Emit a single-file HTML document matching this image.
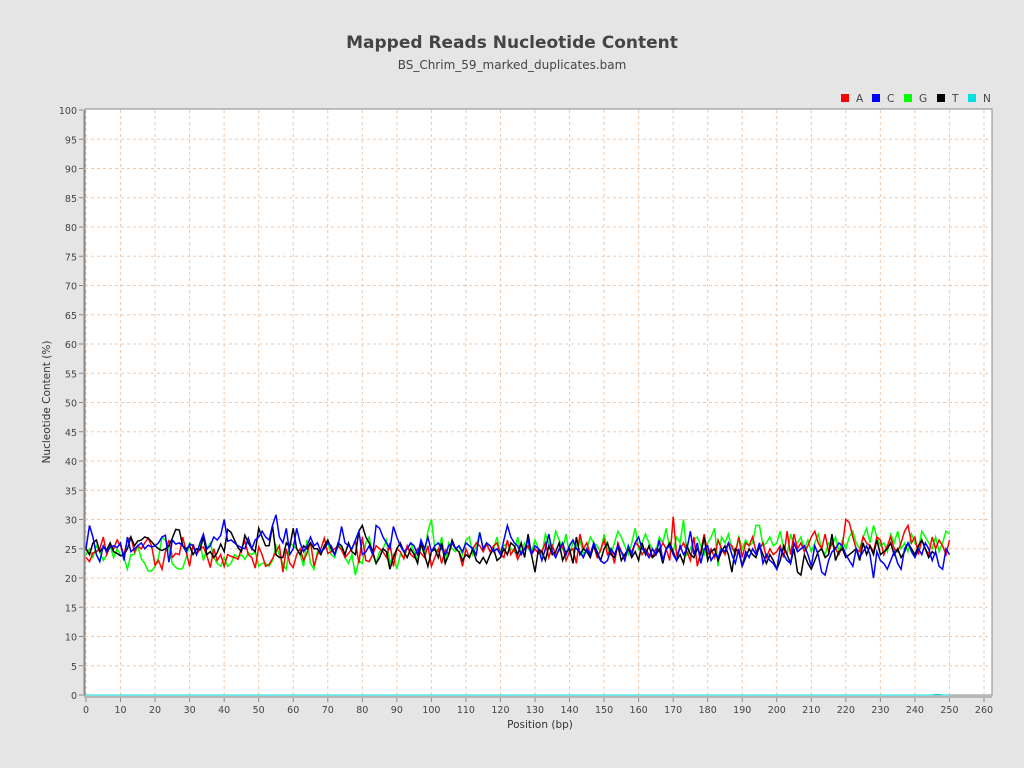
<!DOCTYPE html>
<html><head><meta charset="utf-8"><style>
body{margin:0;background:#e5e5e5;font-family:"Liberation Sans","DejaVu Sans",sans-serif;}
svg{display:block}
</style></head><body>
<svg width="1024" height="768" font-family="DejaVu Sans, Liberation Sans, sans-serif">
<rect width="1024" height="768" fill="#e5e5e5"/>
<text x="512" y="48" text-anchor="middle" font-size="17" font-weight="bold" fill="#444">Mapped Reads Nucleotide Content</text>
<text x="512" y="69" text-anchor="middle" font-size="12" fill="#444">BS_Chrim_59_marked_duplicates.bam</text>
<g id="legend"></g>
<rect x="85" y="109" width="907" height="586" fill="#fff" stroke="#888"/>
<g id="grid"></g>
<g id="axes"></g>
<g id="series"></g>
<text transform="translate(50,402) rotate(-90)" text-anchor="middle" font-size="10.5" fill="#333">Nucleotide Content (%)</text>
<text x="540" y="728" text-anchor="middle" font-size="10.5" fill="#333">Position (bp)</text>
</svg>
<script>
const xTicks=[0,10,20,30,40,50,60,70,80,90,100,110,120,130,140,150,160,170,180,190,200,210,220,230,240,250,260];
const yTicks=[0,5,10,15,20,25,30,35,40,45,50,55,60,65,70,75,80,85,90,95,100];
const seriesNames=["A","C","G","T","N"];
const seriesColors=["#ff0000","#0000ff","#00ff00","#000000","#00e0e0"];
const seriesA=[23.5,22.8,24.3,24.5,25,27,24,25.5,25,26.5,25.5,24,26.5,27,24.5,25.5,25,26,26.8,25.5,22.2,23,21.5,24.5,26.5,23.5,24.2,24,27,24.5,22,25.8,24,25,25.3,23.8,21.8,25,23,24,22,24,23.7,23.5,23.2,25,26.3,24,23.5,21.7,25.3,24,22,22.3,23.3,24.5,25.5,21,25,22.5,21.8,24,25,23,24.2,26.2,22,24,25,26.8,24.2,24.5,25,25.5,24.8,23.5,24.2,25,26.3,22.5,27,23,22.8,24,25.5,25,24.5,23.5,26,22,25,24.5,23.3,25.5,24,23.5,25,24.2,23.5,25.5,22,23.5,25,22.5,24.8,24,26,25,24.5,22,25,23.5,25,26,25.5,24.5,25.8,24.5,25.5,26,24,23.5,26.5,24,25,23.2,24.5,25,25.5,24,25,24.2,24.5,26,23.5,25.5,24,24.7,25.5,23,24.5,25,22.5,27.5,25,26,24,25.5,23.5,24.8,26.5,24,25,22.5,26,24.5,23.7,25,24.5,26,25.5,24,25,24,23.5,25,24.5,26,25,23,30.5,24,25,26,24.5,23,27,22,24.5,27.5,24,25,23.5,26.5,25,24,26,25.5,24,27,23.5,26,25.5,27,24.5,25,26,23.5,25,24,24.5,25.5,23.5,28,24,27.5,25,26,24.5,25.5,27,28,26,25,27.5,24.5,26,25,24,25.5,30,29.5,27,25,24.5,27,26,25.5,24.5,27,26.5,24,25.5,27,25,24.5,26,28,29,26,27,24,26.5,25,24,27,25,26.5,25.5,24,26.5,25,24];
const seriesC=[25,29,27,24,22.8,25.5,24.5,25.3,25.5,25.2,26,23,27,24.5,25,25.5,26,25,25.6,25.3,25.5,26,27,27.3,22.7,26.5,25.8,26,25.5,24.5,25.8,25.5,24,26,27.5,25,25.5,27,26.5,27.3,30,26.3,26.5,26,25.5,25.2,25,26.8,25,26.5,27,28,27,26.5,29,30.8,27,26,28.5,24,25,28.5,26,24.5,25.5,27,25.5,26,24.5,25,26,25.5,24,25.5,28.8,26,25.5,25,26.5,28,24,24.5,25.5,24,29,28.5,27,26,25,28.8,27,25.5,24.5,25,26,25.5,24,26.5,25,27,24.5,25.5,26,25,24,25.5,26,25,25.5,24.5,26,25.5,25,24,27.8,25,26,25.5,24.5,25,24,26.5,29,27,26,25.5,24,25,26.5,24,25.5,25,23,25,27.5,24.5,23.5,25,26,24,25.5,26.5,25,24.5,23.5,25,24,26,24.5,23,22.5,23,25,24,25.5,24.5,23,25.5,24,26,27,25,24.5,23.5,25,24,26.5,23,25,25.5,24,23,25.5,24,25,28,24,26,22.5,25,25.5,23,24,23.5,25,24.5,26,24,22.5,25,22,24.5,23.5,25,24,26,22.5,24,23,22.5,21.5,25,24,23,22.5,26,24.5,25,25.5,24,22,25.5,24,21,20.5,23,24.5,25,26,25.5,24,23,22,25,23.5,24.5,25.5,24,20,24.5,23,22.5,21.5,23,24.5,22.5,21.5,25,26,24.5,23.5,25,24,26,25,23,24.5,22,21.5,25,24,22.5,21.5];
const seriesG=[24,25,23.5,25.5,24.5,23,24,25.5,23.5,25,24,23.5,21.5,24,24,25.5,23.3,22.5,21.2,21.2,22,23.5,27,26.5,25,22.5,21.8,21.5,21.7,23.5,26,25.5,24,26,23,25,26,23.5,22.5,22,23.5,22,22.5,24,23.5,24,23.2,24.3,24,24.5,22,22.5,22.5,22,23,25.5,24,22.3,21.5,26,25.5,25,24,22,26.5,22.5,21.5,24.5,24,25.5,26,24,23.5,26,25,23.5,22.5,24,20.5,23,22.5,26,27,24,22.5,24.5,25,26.5,22.5,24,21.5,24,23.5,25,26,24.5,23,25.5,24,28,30,25,24.5,27,22.5,26,25,24.5,25.5,24,26.5,27,24,25.5,27.8,25,26,24.5,25,27,24,25.5,26,25,24.5,27,24,26,25,24.5,26.5,25,24,27.5,26,25,28,26.5,25,27.5,24,26,25.5,26.5,24,25,27,26,25.5,24.5,27.5,25,24,26,28,27,25.5,24,26,28.5,25,26,27.5,26,25,24.5,27,26,28.5,25,24.5,27,26,30,24,25,26.5,27,25.5,24,26,27,28.5,22,27,26,27.5,25,24.5,27,25,26.5,25.5,26,29,29,25.5,26,27,25.5,26,28,25,24,27.5,25.5,26,27,25,26.5,24.5,26,27.5,25,24,26,25.5,27,24.5,26.5,25,27,28,26,25,27,28.5,26,29,27,25.5,26,24.5,27.5,26,28,25,26,24.5,27.5,26,25,28,27,26,25,27,24.5,26,28,27.5,26,25];
const seriesT=[25,24,26,26.5,24.5,25.3,24.8,26,24.5,24.2,23.8,24,25,27,25.5,26.3,26.5,27,26.8,26.2,25.5,25,24.7,25,25.5,26.8,28.3,28.2,25.5,25,25.5,24,25,24.8,27,24,24.5,23.5,24.3,25.8,24.5,28.3,27.8,26.5,25.2,24.5,27.3,26,25,24.5,28.5,27,25.5,25.5,29,24,23.5,23.5,26,25.3,28.5,25,24,25.5,25,26,25,25,24,25.5,26.5,25,24,26,25.5,24,26,24.5,24,28,29,27,26,24.5,22.5,23.5,25,24.5,21.5,23.5,25,26,24.5,23.5,25,24,22.5,26,24,22,24.5,25,23.5,26,22.5,24,26.5,25,24.5,23,24,23.5,25,23,22.5,23.5,22.5,24,25,23,23.5,25,24,26,25.5,24,26,23.5,27.5,24,21,25,24.5,23,25.5,24,24.5,26,23,24.5,25,22.5,27,24,25,24.5,23.5,25.5,24,23,25,26,24,23.5,25.5,23,24,25,23.5,24.5,23,26,24,25.5,23.5,24,25,22.5,25,26,24.5,23,24,22.5,25.5,24,23.5,25,24,27,23,24.5,25,23,24.5,25.5,24,21,25,24.5,22,23.5,25,24,23.5,25.5,24,22.5,24,23,21.5,23,25.5,24,22.5,25,21,20.5,24,22.5,21.5,23,24.5,25,23.5,24,27.5,23,24.5,25,23.5,24,24.5,25,23,26,24,25.5,24,26.5,24,24.5,25,26,24,25,23.5,24.5,26,25,24,25.5,26.5,25,23.5,24.5,24];
const seriesN=[0,0,0,0,0,0,0,0,0,0,0,0,0,0,0,0,0,0,0,0,0,0,0,0,0,0,0,0,0,0,0,0,0,0,0,0,0,0,0,0,0,0,0,0,0,0,0,0,0,0,0,0,0,0,0,0,0,0,0,0,0,0,0,0,0,0,0,0,0,0,0,0,0,0,0,0,0,0,0,0,0,0,0,0,0,0,0,0,0,0,0,0,0,0,0,0,0,0,0,0,0,0,0,0,0,0,0,0,0,0,0,0,0,0,0,0,0,0,0,0,0,0,0,0,0,0,0,0,0,0,0,0,0,0,0,0,0,0,0,0,0,0,0,0,0,0,0,0,0,0,0,0,0,0,0,0,0,0,0,0,0,0,0,0,0,0,0,0,0,0,0,0,0,0,0,0,0,0,0,0,0,0,0,0,0,0,0,0,0,0,0,0,0,0,0,0,0,0,0,0,0,0,0,0,0,0,0,0,0,0,0,0,0,0,0,0,0,0,0,0,0,0,0,0,0,0,0,0,0,0,0,0,0,0,0,0,0,0,0,0,0,0,0,0,0,0,0.1,0.1,0,0,0,0];
const NS="http://www.w3.org/2000/svg";
const X0=86,X1=984,Y0=695,Y1=110;
function xs(v){return X0+(X1-X0)*v/260;}
function ys(v){return Y0-(Y0-Y1)*v/100;}
function mk(t,a,p){const e=document.createElementNS(NS,t);for(const k in a)e.setAttribute(k,a[k]);p.appendChild(e);return e;}
const grid=document.getElementById('grid'),axes=document.getElementById('axes'),ser=document.getElementById('series'),leg=document.getElementById('legend');
xTicks.forEach(t=>{
 const l=mk('line',{x1:xs(t),x2:xs(t),y1:110,y2:695,stroke:'#f0c8a8','stroke-dasharray':'3,3'},grid);
 
 
 const k=mk('line',{x1:xs(t),x2:xs(t),y1:698,y2:702,stroke:'#888'},axes);
 
 
 const tx=mk('text',{x:xs(t),y:713,'text-anchor':'middle','font-size':'9.5',fill:'#444'},axes);
 tx.textContent=t;
 
 
});
yTicks.forEach(t=>{
 if(t>0&&t<100){const l=mk('line',{x1:85,x2:992,y1:ys(t),y2:ys(t),stroke:'#f0c8a8','stroke-dasharray':'3,3'},grid);
 
 }
 const k=mk('line',{x1:79,x2:83,y1:ys(t),y2:ys(t),stroke:'#888'},axes);
 
 
 const tx=mk('text',{x:77,y:ys(t)+4,'text-anchor':'end','font-size':'9.5',fill:'#444'},axes);
 tx.textContent=t;
 
 
});
mk('line',{x1:84,x2:84,y1:110,y2:696,stroke:'#888'},axes);
mk('line',{x1:84,x2:992,y1:697,y2:697,stroke:'#888'},axes);
const all=[seriesA,seriesC,seriesG,seriesT,seriesN];
[4,2,0,3,1].forEach(i=>{
 const vals=all[i].slice(0,251);
 const d=vals.map((v,j)=>(j?'L':'M')+xs(j).toFixed(1)+','+ys(v).toFixed(1)).join('');
 const p=mk('path',{d:d,fill:'none',stroke:seriesColors[i],'stroke-width':i==4?'1':'1.5'},ser);
 
 
});
const lx=[841,872,904,937,968];
seriesNames.forEach((n,i)=>{
 const r=mk('rect',{x:lx[i],y:94,width:8,height:8,fill:seriesColors[i]},leg);
 
 
 const t=mk('text',{x:lx[i]+15,y:102,'font-size':'10.5',fill:'#444'},leg);
 t.textContent=n;
 
 
});
</script>
</body></html>
